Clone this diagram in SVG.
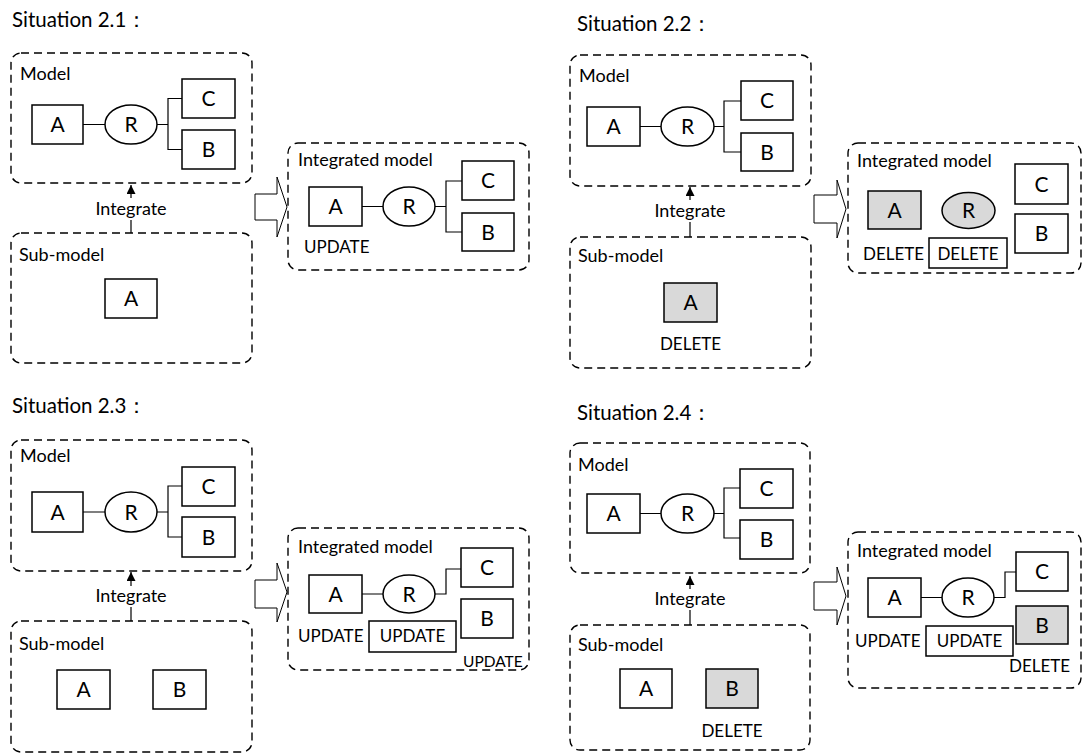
<svg xmlns="http://www.w3.org/2000/svg" width="1084" height="753" viewBox="0 0 1084 753">
<defs>
<style>
text{font-family:Lato,"Liberation Sans",sans-serif;fill:#000}
.title{font-size:20.5px}
.lbl{font-size:18px}
.tag{font-size:17px}
.small{font-size:15.5px}
.let{font-size:21px;text-anchor:middle}
.mid{text-anchor:middle}
.frame{fill:none;stroke:#000;stroke-width:1.4;stroke-dasharray:8 5}
.box{fill:#fff;stroke:#000;stroke-width:1.5}
.gray{fill:#d9d9d9;stroke:#000;stroke-width:1.5}
.ln{fill:none;stroke:#000;stroke-width:1.2}
.big{fill:#fff;stroke:#000;stroke-width:1}
</style>
<marker id="tri" viewBox="0 0 10 10" refX="10" refY="5" markerWidth="10" markerHeight="9" markerUnits="userSpaceOnUse" orient="auto">
<path d="M0,0 L10,5 L0,10 Z" fill="#000"/>
</marker>
</defs>
<rect width="1084" height="753" fill="#fff"/>

<!-- Situation 2.1 -->
<text class="title" x="12" y="27">Situation 2.1：</text>
<g id="s1-model"><rect class="frame" x="11" y="53" width="241" height="130" rx="10"/><text class="lbl" x="20" y="80">Model</text></g>
<g id="s1-m-A"><rect class="box" x="32" y="105" width="51" height="39"/><text class="let" x="57.5" y="132">A</text></g>
<g id="s1-m-R"><ellipse class="box" cx="131" cy="124.5" rx="26" ry="19.5"/><text class="let" x="131" y="132">R</text></g>
<g id="s1-m-C"><rect class="box" x="182" y="79" width="53" height="39"/><text class="let" x="208.5" y="106">C</text></g>
<g id="s1-m-B"><rect class="box" x="182" y="130" width="53" height="39"/><text class="let" x="208.5" y="157">B</text></g>
<g id="s1-sub"><rect class="frame" x="11" y="233" width="241" height="130" rx="10"/><text class="lbl" x="19" y="261">Sub-model</text></g>
<g id="s1-s-A"><rect class="box" x="105" y="279" width="52" height="39"/><text class="let" x="131" y="306">A</text></g>
<g id="s1-int"><rect class="frame" x="288" y="143" width="241" height="127" rx="10"/><text class="lbl" x="298" y="166">Integrated model</text></g>
<g id="s1-i-A"><rect class="box" x="309" y="187" width="53" height="39"/><text class="let" x="335.5" y="214">A</text><text class="tag" x="304" y="253">UPDATE</text></g>
<g id="s1-i-R"><ellipse class="box" cx="409" cy="206.5" rx="26" ry="19.5"/><text class="let" x="409" y="214">R</text></g>
<g id="s1-i-C"><rect class="box" x="462" y="161" width="52" height="39"/><text class="let" x="488" y="188">C</text></g>
<g id="s1-i-B"><rect class="box" x="462" y="213" width="52" height="38"/><text class="let" x="488" y="239.5">B</text></g>

<!-- Situation 2.2 -->
<text class="title" x="577" y="31">Situation 2.2：</text>
<g id="s2-model"><rect class="frame" x="570" y="55" width="241" height="131" rx="10"/><text class="lbl" x="579" y="82">Model</text></g>
<g id="s2-m-A"><rect class="box" x="587" y="107" width="53" height="39"/><text class="let" x="613.5" y="134">A</text></g>
<g id="s2-m-R"><ellipse class="box" cx="687.5" cy="126.5" rx="26.5" ry="19.5"/><text class="let" x="687.5" y="134">R</text></g>
<g id="s2-m-C"><rect class="box" x="741" y="81" width="52" height="39"/><text class="let" x="767" y="108">C</text></g>
<g id="s2-m-B"><rect class="box" x="741" y="133" width="52" height="38"/><text class="let" x="767" y="159.5">B</text></g>
<g id="s2-sub"><rect class="frame" x="570" y="237" width="241" height="131" rx="10"/><text class="lbl" x="578" y="262">Sub-model</text></g>
<g id="s2-s-A"><rect class="gray" x="664" y="283" width="53" height="39"/><text class="let" x="690.5" y="310">A</text><text class="tag mid" x="690.5" y="350">DELETE</text></g>
<g id="s2-int"><rect class="frame" x="848" y="143" width="233" height="130" rx="10"/><text class="lbl" x="857" y="167">Integrated model</text></g>
<g id="s2-i-A"><rect class="gray" x="868" y="191" width="53" height="38"/><text class="let" x="894.5" y="217.5">A</text><text class="tag" x="863" y="260">DELETE</text></g>
<g id="s2-i-R"><ellipse class="gray" cx="968.5" cy="210.5" rx="26.5" ry="18"/><text class="let" x="968.5" y="218">R</text></g>
<g id="s2-i-del"><rect class="box" x="929" y="238" width="78" height="30"/><text class="tag mid" x="968" y="260">DELETE</text></g>
<g id="s2-i-C"><rect class="box" x="1015" y="164" width="53" height="40"/><text class="let" x="1041.5" y="191.5">C</text></g>
<g id="s2-i-B"><rect class="box" x="1015" y="214" width="53" height="39"/><text class="let" x="1041.5" y="241">B</text></g>

<!-- Situation 2.3 -->
<text class="title" x="12" y="413">Situation 2.3：</text>
<g id="s3-model"><rect class="frame" x="11" y="440" width="241" height="131" rx="10"/><text class="lbl" x="20" y="462">Model</text></g>
<g id="s3-m-A"><rect class="box" x="32" y="492" width="51" height="40"/><text class="let" x="57.5" y="519.5">A</text></g>
<g id="s3-m-R"><ellipse class="box" cx="131" cy="512" rx="26" ry="20"/><text class="let" x="131" y="519.5">R</text></g>
<g id="s3-m-C"><rect class="box" x="182" y="467" width="53" height="39"/><text class="let" x="208.5" y="494">C</text></g>
<g id="s3-m-B"><rect class="box" x="182" y="517" width="53" height="40"/><text class="let" x="208.5" y="544.5">B</text></g>
<g id="s3-sub"><rect class="frame" x="11" y="621" width="241" height="131" rx="10"/><text class="lbl" x="19" y="650">Sub-model</text></g>
<g id="s3-s-A"><rect class="box" x="57" y="670" width="53" height="39"/><text class="let" x="83.5" y="697">A</text></g>
<g id="s3-s-B"><rect class="box" x="153" y="670" width="53" height="39"/><text class="let" x="179.5" y="697">B</text></g>
<g id="s3-int"><rect class="frame" x="288" y="528" width="241" height="142" rx="10"/><text class="lbl" x="298" y="553">Integrated model</text></g>
<g id="s3-i-A"><rect class="box" x="309" y="575" width="53" height="38"/><text class="let" x="335.5" y="601.5">A</text><text class="tag" x="298" y="642">UPDATE</text></g>
<g id="s3-i-R"><ellipse class="box" cx="409" cy="594" rx="26" ry="19"/><text class="let" x="409" y="601.5">R</text></g>
<g id="s3-i-upd"><rect class="box" x="369" y="621" width="87" height="31"/><text class="tag mid" x="412.5" y="642">UPDATE</text></g>
<g id="s3-i-C"><rect class="box" x="461" y="548" width="52" height="39"/><text class="let" x="487" y="575">C</text></g>
<g id="s3-i-B"><rect class="box" x="461" y="599" width="52" height="39"/><text class="let" x="487" y="626">B</text><text class="tag small" x="463" y="667">UPDATE</text></g>

<!-- Situation 2.4 -->
<text class="title" x="577" y="420">Situation 2.4：</text>
<g id="s4-model"><rect class="frame" x="570" y="443" width="240" height="130" rx="10"/><text class="lbl" x="578" y="471">Model</text></g>
<g id="s4-m-A"><rect class="box" x="587" y="494" width="53" height="39"/><text class="let" x="613.5" y="521">A</text></g>
<g id="s4-m-R"><ellipse class="box" cx="687.5" cy="513.5" rx="26.5" ry="19.5"/><text class="let" x="687.5" y="521">R</text></g>
<g id="s4-m-C"><rect class="box" x="740" y="469" width="53" height="39"/><text class="let" x="766.5" y="496">C</text></g>
<g id="s4-m-B"><rect class="box" x="740" y="520" width="53" height="39"/><text class="let" x="766.5" y="547">B</text></g>
<g id="s4-sub"><rect class="frame" x="570" y="625" width="240" height="125" rx="10"/><text class="lbl" x="578" y="651">Sub-model</text></g>
<g id="s4-s-A"><rect class="box" x="620" y="669" width="52" height="39"/><text class="let" x="646" y="696">A</text></g>
<g id="s4-s-B"><rect class="gray" x="706" y="669" width="52" height="39"/><text class="let" x="732" y="696">B</text><text class="tag mid" x="732" y="737">DELETE</text></g>
<g id="s4-int"><rect class="frame" x="848" y="532" width="233" height="156" rx="10"/><text class="lbl" x="857" y="557">Integrated model</text></g>
<g id="s4-i-A"><rect class="box" x="868" y="578" width="53" height="39"/><text class="let" x="894.5" y="605">A</text><text class="tag" x="855" y="647">UPDATE</text></g>
<g id="s4-i-R"><ellipse class="box" cx="968" cy="597.5" rx="26" ry="19.5"/><text class="let" x="968" y="605">R</text></g>
<g id="s4-i-upd"><rect class="box" x="926" y="626" width="87" height="30"/><text class="tag mid" x="969.5" y="647">UPDATE</text></g>
<g id="s4-i-C"><rect class="box" x="1016" y="552" width="52" height="39"/><text class="let" x="1042" y="579">C</text></g>
<g id="s4-i-B"><rect class="gray" x="1016" y="606" width="52" height="38"/><text class="let" x="1042" y="632.5">B</text><text class="tag" x="1009" y="672">DELETE</text></g>

<g id="connectors">
<!-- 2.1 -->
<path class="ln" d="M83,124.5 H105 M157,124.5 H168 M182,98.5 H168 V149.5 H182"/>
<path class="ln" d="M362,206.5 H383 M435,206.5 H446 M462,181 H446 V232 H462"/>
<path class="ln" d="M131,233 V220 M131,198 V185" marker-end="url(#tri)"/>
<text class="lbl mid" x="131" y="215">Integrate</text>
<polygon class="big" points="255,194 277,194 277,177 287,207 277,237 277,220 255,220"/>
<!-- 2.2 -->
<path class="ln" d="M640,126.5 H661 M714,126.5 H724 M741,101 H724 V152 H741"/>
<path class="ln" d="M690,237 V222 M690,200 V187" marker-end="url(#tri)"/>
<text class="lbl mid" x="690" y="217">Integrate</text>
<polygon class="big" points="814,195 837,195 837,180 846,209 837,238 837,223 814,223"/>
<!-- 2.3 -->
<path class="ln" d="M83,512 H105 M157,512 H168 M182,486 H168 V537 H182"/>
<path class="ln" d="M362,594 H383 M435,594 H446 V569 H461"/>
<path class="ln" d="M131,621 V607 M131,586 V572" marker-end="url(#tri)"/>
<text class="lbl mid" x="131" y="602">Integrate</text>
<polygon class="big" points="255,580 277,580 277,563 287,592 277,622 277,608 255,608"/>
<!-- 2.4 -->
<path class="ln" d="M640,513.5 H661 M714,513.5 H724 M740,488 H724 V538 H740"/>
<path class="ln" d="M921,597.5 H942 M994,597.5 H1005 V572 H1016"/>
<path class="ln" d="M690,625 V610 M690,589 V576" marker-end="url(#tri)"/>
<text class="lbl mid" x="690" y="605">Integrate</text>
<polygon class="big" points="814,582 837,582 837,567 846,596 837,625 837,610 814,610"/>
</g>
</svg>
